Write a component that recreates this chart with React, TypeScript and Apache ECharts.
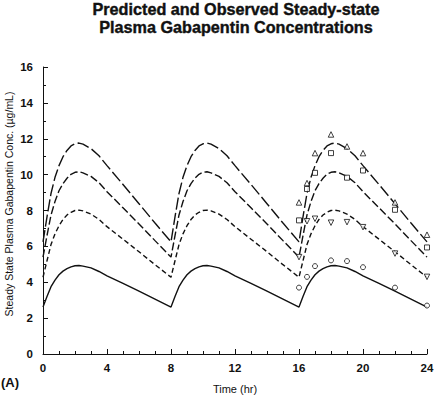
import React, { useEffect, useRef } from "react";
import * as echarts from "echarts";

// one dosing interval (hours after dose) — the predicted profiles repeat every 8 h
const profileHours = [0, 0.25, 0.5, 0.75, 1, 1.25, 1.5, 1.75, 2, 2.25, 2.5, 3, 3.5, 4, 5, 6, 7, 8];
const doseTimes = [0, 8, 16];

const predSolid = [2.62, 3.2, 3.75, 4.12, 4.42, 4.62, 4.76, 4.86, 4.92, 4.93, 4.9, 4.8, 4.6, 4.36, 3.94, 3.5, 3.06, 2.62];
const predShortDash = [4.28, 5.2, 6.1, 6.7, 7.15, 7.5, 7.75, 7.9, 8.0, 8.02, 7.98, 7.8, 7.5, 7.1, 6.4, 5.7, 4.98, 4.28];
const predMidDash = [5.4, 6.6, 7.75, 8.5, 9.1, 9.5, 9.8, 10.02, 10.13, 10.16, 10.1, 9.9, 9.55, 9.05, 8.15, 7.25, 6.32, 5.4];
const predLongDash = [6.25, 7.65, 8.95, 9.85, 10.5, 11.0, 11.35, 11.6, 11.72, 11.76, 11.7, 11.45, 11.05, 10.5, 9.45, 8.38, 7.3, 6.25];

// observed concentrations during the last dosing interval
const obsTimes = [16, 16.5, 17, 18, 19, 20, 22, 24];
const obsCircle = [3.7, 4.3, 4.9, 5.22, 5.18, 4.84, 3.7, 2.7];
const obsDownTri = [5.4, 7.4, 7.54, 7.32, 7.35, 7.07, 5.6, 4.3];
const obsSquare = [7.45, 9.2, 10.1, 11.2, 9.83, 10.23, 8.04, 5.94];
const obsUpTri = [8.45, 9.53, 11.2, 12.24, 11.57, 11.2, 8.45, 6.65];

const xTicks = [0, 4, 8, 12, 16, 20, 24];
const yMax = 16;

const titleText = "Predicted and Observed Steady-state\nPlasma Gabapentin Concentrations";
const yName = "Steady State Plasma Gabapentin Conc. (\u00b5g/mL)";
const xName = "Time (hr)";
const panelLabel = "(A)";

const INK = "#111";
const FONT = "'Liberation Sans', Arial, Helvetica, sans-serif";

function buildCurve(values: number[]) {
  const out: number[][] = [];
  doseTimes.forEach((d, k) => {
    profileHours.forEach((h, i) => {
      if (k > 0 && i === 0) return;
      out.push([d + h, values[i]]);
    });
  });
  return out;
}

function obs(values: number[]) {
  return obsTimes.map((t, i) => [t, values[i]]);
}

export default function App() {
  const ref = useRef<HTMLDivElement>(null);
  useEffect(() => {
    if (!ref.current) return;
    const chart = echarts.init(ref.current, undefined, { renderer: "svg" });
    const lineBase = (name: string, values: number[], type: any) => ({
      name,
      type: "line",
      data: buildCurve(values),
      showSymbol: false,
      symbol: "none",
      lineStyle: { color: INK, width: 1.4, type },
      z: 2,
    });
    const scatterBase = (name: string, values: number[], symbol: string, rotate = 0, size = 5) => ({
      name,
      type: "scatter",
      data: obs(values),
      symbol,
      symbolSize: size,
      symbolRotate: rotate,
      itemStyle: { color: "#fff", borderColor: INK, borderWidth: 1 },
      z: 3,
    });
    chart.setOption({
      animation: false,
      backgroundColor: "#fff",
      title: {
        text: titleText,
        left: 236,
        top: 0,
        padding: 0,
        textAlign: "center",
        textStyle: {
          fontFamily: FONT,
          fontSize: 16.2,
          fontWeight: "bold",
          color: INK,
          lineHeight: 18,
          textBorderColor: INK,
          textBorderWidth: 0.4,
        },
      },
      grid: { left: 43, right: 8, top: 67, bottom: 45, outerBoundsMode: "none", containLabel: false },
      xAxis: {
        type: "value",
        min: 0,
        max: 24,
        interval: 4,
        name: xName,
        nameLocation: "middle",
        nameGap: 29,
        nameTextStyle: { fontFamily: FONT, fontSize: 11, color: INK },
        axisLine: { lineStyle: { color: INK, width: 1 } },
        axisTick: { inside: true, length: 5, lineStyle: { color: INK } },
        minorTick: { show: true, splitNumber: 4, length: 3, lineStyle: { color: INK } },
        splitLine: { show: false },
        axisLabel: {
          fontFamily: FONT,
          fontSize: 11.5,
          fontWeight: "bold",
          color: INK,
          margin: 8,
          formatter: (v: number) => (xTicks.includes(v) ? String(v) : ""),
        },
      },
      yAxis: {
        type: "value",
        min: 0,
        max: yMax,
        interval: 2,
        axisLine: { show: true, lineStyle: { color: INK, width: 1 } },
        axisTick: { show: true, inside: true, length: 5, lineStyle: { color: INK } },
        minorTick: { show: true, splitNumber: 2, length: 3, lineStyle: { color: INK } },
        splitLine: { show: false },
        axisLabel: { fontFamily: FONT, fontSize: 11.5, fontWeight: "bold", color: INK, margin: 10 },
      },
      graphic: [
        {
          type: "text",
          x: 9,
          y: 204,
          rotation: Math.PI / 2,
          style: {
            text: yName,
            fontFamily: FONT,
            fontSize: 10.5,
            fill: INK,
            align: "center",
            verticalAlign: "middle",
          },
        },
        {
          type: "text",
          left: 1,
          top: 376,
          style: { text: panelLabel, fontFamily: FONT, fontSize: 13, fontWeight: "bold", fill: INK },
        },
      ],
      series: [
        lineBase("Predicted low", predSolid, "solid"),
        lineBase("Predicted mid-low", predShortDash, [5, 3]),
        lineBase("Predicted mid-high", predMidDash, [8, 3]),
        lineBase("Predicted high", predLongDash, [12, 3.5]),
        scatterBase("Observed low", obsCircle, "circle", 0, 5),
        scatterBase("Observed mid-low", obsDownTri, "triangle", 180, 5.5),
        scatterBase("Observed mid-high", obsSquare, "rect", 0, 5),
        scatterBase("Observed high", obsUpTri, "triangle", 0, 5.5),
      ],
    });
    return () => chart.dispose();
  }, []);
  return (
    <div
      ref={ref}
      style={{ position: "fixed", left: 0, top: 0, width: 435, height: 399, background: "#fff" }}
    />
  );
}
